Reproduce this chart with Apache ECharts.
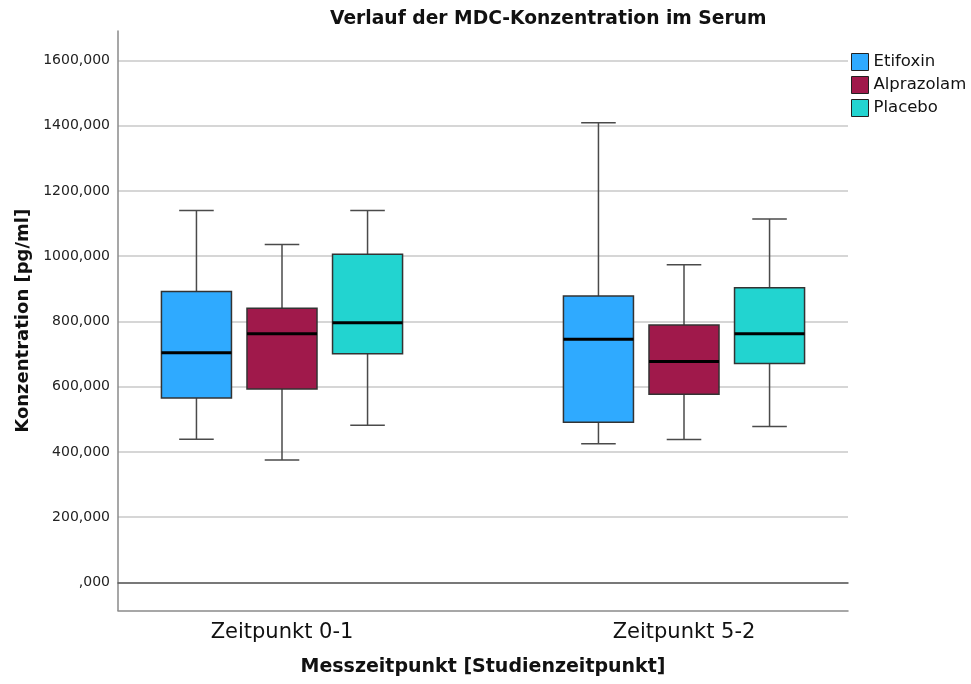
<!DOCTYPE html>
<html>
<head>
<meta charset="utf-8">
<style>html,body{margin:0;padding:0;background:#fff;}#c{width:971px;height:684px;}</style>
<script src="https://cdn.jsdelivr.net/npm/echarts@6/dist/echarts.min.js"></script>
</head>
<body>
<div id="c"></div>
<script>
// ---- data (min, Q1, median, Q3, max) ----
const categories = ['Zeitpunkt 0-1', 'Zeitpunkt 5-2'];
const seriesNames = ['Etifoxin', 'Alprazolam', 'Placebo'];
const etifoxin = [[439, 565, 704, 892, 1140], [425, 491, 745, 878, 1409]];
const alprazolam = [[375, 593, 762, 840, 1036], [438, 577, 677, 789, 974]];
const placebo = [[482, 701, 796, 1006, 1140], [478, 671, 762, 903, 1114]];
const yTicks = [0, 200, 400, 600, 800, 1000, 1200, 1400, 1600];

const colors = ['#2FAAFF', '#A0194B', '#22D4D0'];
const FONT = 'DejaVu Sans';
const yMin = -86, yMax = 1690;

function toRows(arr) { return arr.map((v, i) => [i].concat(v)); }
const allData = [etifoxin, alprazolam, placebo];

function makeRender(k) {
  return function (params, api) {
    const c = api.value(0);
    const band = api.size([1, 0])[0];
    const ctr = api.coord([c, 0])[0] + (k - 1) * 0.2128 * band;
    const hw = 0.0871 * band, cw = 0.043 * band;
    const y = i => api.coord([c, api.value(i)])[1];
    const vMin = y(1), q1 = y(2), med = y(3), q3 = y(4), vMax = y(5);
    const ws = { stroke: '#4a4a4a', lineWidth: 1.5 };
    return {
      type: 'group',
      children: [
        { type: 'line', shape: { x1: ctr, y1: vMax, x2: ctr, y2: q3 }, style: ws },
        { type: 'line', shape: { x1: ctr, y1: q1, x2: ctr, y2: vMin }, style: ws },
        { type: 'line', shape: { x1: ctr - cw, y1: vMax, x2: ctr + cw, y2: vMax }, style: ws },
        { type: 'line', shape: { x1: ctr - cw, y1: vMin, x2: ctr + cw, y2: vMin }, style: ws },
        { type: 'rect', shape: { x: ctr - hw, y: q3, width: 2 * hw, height: q1 - q3 },
          style: { fill: colors[k], stroke: '#333', lineWidth: 1.5 } },
        { type: 'line', shape: { x1: ctr - hw, y1: med, x2: ctr + hw, y2: med },
          style: { stroke: '#000', lineWidth: 3 } }
      ]
    };
  };
}

const chart = echarts.init(document.getElementById('c'), null, { renderer: 'canvas' });
chart.setOption({
  animation: false,
  backgroundColor: '#fff',
  title: {
    text: 'Verlauf der MDC-Konzentration im Serum',
    left: 330, top: 10, padding: 0,
    textStyle: { fontFamily: FONT, fontSize: 18.7, fontWeight: 'bold', color: '#111' }
  },
  legend: {
    orient: 'vertical', left: 851, top: 53, padding: 0,
    itemWidth: 17, itemHeight: 17, itemGap: 5,
    icon: 'rect',
    textStyle: { fontFamily: FONT, fontSize: 16.5, color: '#111' },
    data: seriesNames.map((n, i) => ({ name: n, itemStyle: { color: colors[i], borderColor: '#222', borderWidth: 1 } }))
  },
  grid: [
    { left: 118, right: 123, top: 31, bottom: 73.5 },
    { left: 81, right: 86, top: 31, bottom: 73.5 }
  ],
  xAxis: [
    { gridIndex: 0, type: 'value', min: 0, max: 1, position: 'bottom',
      axisLine: { show: true, onZero: true, lineStyle: { color: '#5a5a5a', width: 1.5 } },
      axisTick: { show: false }, axisLabel: { show: false }, splitLine: { show: false } },
    { gridIndex: 0, type: 'value', min: 0, max: 1, position: 'bottom',
      axisLine: { show: true, onZero: false, lineStyle: { color: '#8a8a8a', width: 1.5 } },
      axisTick: { show: false }, axisLabel: { show: false }, splitLine: { show: false },
      name: 'Messzeitpunkt [Studienzeitpunkt]', nameLocation: 'middle', nameGap: 47,
      nameTextStyle: { fontFamily: FONT, fontSize: 19, fontWeight: 'bold', color: '#111' } },
    { gridIndex: 1, type: 'category', data: categories,
      axisLine: { show: false }, axisTick: { show: false }, splitLine: { show: false },
      axisLabel: { fontFamily: FONT, fontSize: 21, color: '#111', margin: 12 } }
  ],
  yAxis: [
    { gridIndex: 0, type: 'value', min: yMin, max: yMax,
      axisLine: { show: true, lineStyle: { color: '#8a8a8a', width: 1.5 } },
      axisTick: { show: false, customValues: yTicks },
      axisLabel: { customValues: yTicks, fontFamily: FONT, fontSize: 14, color: '#222', margin: 8,
        formatter: v => (v === 0 ? ',000' : v + ',000') },
      splitLine: { show: true, lineStyle: { color: '#d6d6d6', width: 2 } },
      name: 'Konzentration [pg/ml]', nameLocation: 'middle', nameGap: 84,
      nameTextStyle: { fontFamily: FONT, fontSize: 18, fontWeight: 'bold', color: '#111' } },
    { gridIndex: 1, type: 'value', min: yMin, max: yMax, show: false, splitLine: { show: false } }
  ],
  series: seriesNames.map((n, k) => ({
    name: n, type: 'custom', xAxisIndex: 2, yAxisIndex: 1,
    itemStyle: { color: colors[k], borderColor: '#222', borderWidth: 1 },
    encode: { x: 0, y: [1, 2, 3, 4, 5] },
    renderItem: makeRender(k),
    data: toRows(allData[k])
  }))
});
</script>
</body>
</html>
